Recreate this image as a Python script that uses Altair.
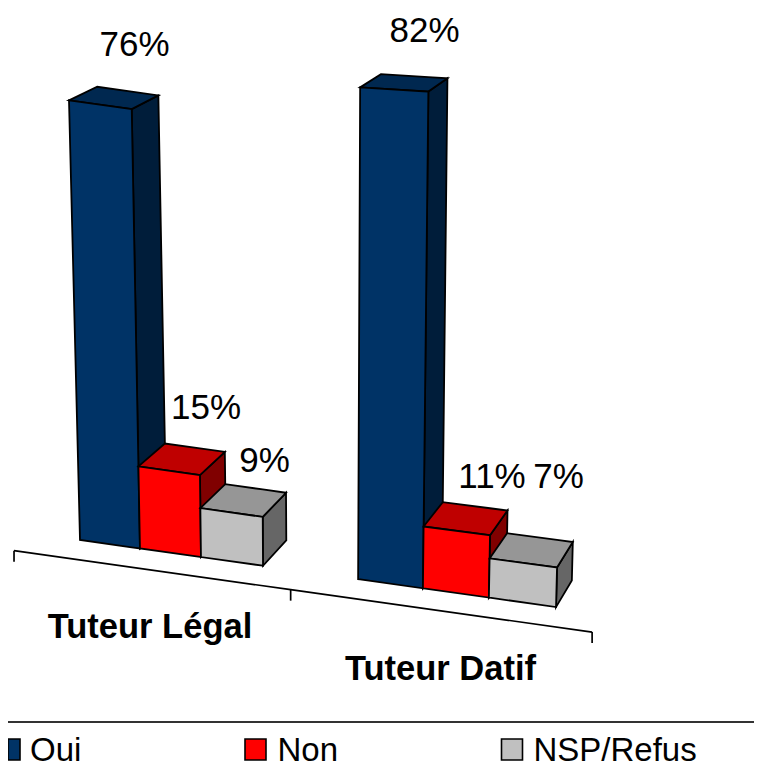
import altair as alt
import pandas as pd

# ---- chart values ----
groups = ["Tuteur Légal", "Tuteur Datif"]
series = ["Oui", "Non", "NSP/Refus"]
values_legal = [76, 15, 9]
values_datif = [82, 11, 7]
data_labels = [["76%", "15%", "9%"], ["82%", "11%", "7%"]]

# ---- styles ----
FRONT = ["#003366", "#ff0000", "#c0c0c0"]
TOP = ["#002850", "#bf0000", "#969696"]
SIDE = ["#001d3a", "#800000", "#666666"]
FONT = "Liberation Sans"

# ---- 3D camera (perspective of the bar scene) ----
GROUP_START = [0.0, 4.5]
VERT_VP = (319.0, 10090.0)   # vanishing point of the verticals
DEPTH_VP = (1176.0, -431.0)  # vanishing point of the depth direction
DEPTH = 0.0255
RISE_K = [5.65e-4, 5.85e-4]
RISE_M = 0.00095
TILT = [0.0, 0.011]


def floor(X):
    x = (80 + 58.79 * X) / (1 - 0.00842 * X)
    return (x, 540 + 0.1408 * (x - 80))


def lift(p, t):
    return (p[0] - t * (VERT_VP[0] - p[0]), p[1] - t * (VERT_VP[1] - p[1]))


def back(p):
    return (p[0] + DEPTH * (DEPTH_VP[0] - p[0]), p[1] + DEPTH * (DEPTH_VP[1] - p[1]))


def span_at(poly, x):
    ys = []
    n = len(poly)
    for i in range(n):
        a, b = poly[i], poly[(i + 1) % n]
        lo, hi = min(a[0], b[0]), max(a[0], b[0])
        if lo - 1e-9 <= x <= hi + 1e-9:
            if abs(b[0] - a[0]) < 1e-9:
                ys += [a[1], b[1]]
            else:
                ys.append(a[1] + (x - a[0]) / (b[0] - a[0]) * (b[1] - a[1]))
    return min(ys), max(ys)


rows = []


def add_face(name, poly, color):
    for x in sorted({p[0] for p in poly}):
        y0, y1 = span_at(poly, x)
        rows.append({"face": name, "x": x, "y": y0, "y2": y1, "fill": color})


for g, vals in enumerate([values_legal, values_datif]):
    for s, v in enumerate(vals):
        X = GROUP_START[g] + s
        bl, br = floor(X), floor(X + 1)
        t = RISE_K[g] * v * (1 + RISE_M * v)
        tl, tr = lift(bl, t), lift(br, t * (1 + TILT[g]))
        tag = f"{g:02d}{s:02d}"
        add_face(tag + "a_side", [br, back(br), back(tr), tr], SIDE[s])
        add_face(tag + "b_top", [tl, tr, back(tr), back(tl)], TOP[s])
        add_face(tag + "c_front", [bl, br, tr, tl], FRONT[s])

faces = pd.DataFrame(rows)

PAGE_RIGHT = 754
PAGE_BOTTOM = 769
X_SCALE = alt.Scale(domain=[8, PAGE_RIGHT], nice=False, zero=False)
Y_SCALE = alt.Scale(domain=[8, PAGE_BOTTOM], reverse=True, nice=False, zero=False)
x_enc = alt.X("x:Q", scale=X_SCALE, axis=None)
y_enc = alt.Y("y:Q", scale=Y_SCALE, axis=None)

bars = alt.Chart(faces).mark_area(stroke="black", strokeWidth=1.8, strokeJoin="miter", opacity=1).encode(
    x=x_enc, y=y_enc, y2="y2:Q",
    color=alt.Color("fill:N", scale=None),
    detail="face:N",
)

# ---- category axis: floor line dropped below the bars ----
AXIS_EDGES = [-1.12, 3.44, 8.03]
AXIS_DROP = 20
TICK = 11
axis_rows = []
ends = [floor(e) for e in AXIS_EDGES]
ends = [(p[0], p[1] + AXIS_DROP) for p in ends]
axis_rows += [{"path": "base", "i": i, "x": p[0], "y": p[1]} for i, p in enumerate(ends)]
for j, p in enumerate(ends):
    axis_rows += [
        {"path": f"tick{j}", "i": 0, "x": p[0], "y": p[1]},
        {"path": f"tick{j}", "i": 1, "x": p[0], "y": p[1] + TICK},
    ]
axis_line = alt.Chart(pd.DataFrame(axis_rows)).mark_line(color="black", strokeWidth=1.7).encode(
    x=x_enc, y=y_enc, detail="path:N", order="i:Q"
)

# ---- text placement ----
LABEL_X = [[134.5, 206, 264.5], [424.5, 492, 558.5]]
LABEL_Y = [[56, 419, 472], [41.5, 488, 488]]
lab_rows = [
    {"text": data_labels[g][s], "x": LABEL_X[g][s], "y": LABEL_Y[g][s]}
    for g in range(2) for s in range(3)
]
labels = alt.Chart(pd.DataFrame(lab_rows)).mark_text(
    font=FONT, fontSize=35, align="center", baseline="alphabetic", color="black"
).encode(x=x_enc, y=y_enc, text="text:N")

CAT_X = [150, 440.5]
CAT_Y = [638, 680]
cats = alt.Chart(pd.DataFrame({"text": groups, "x": CAT_X, "y": CAT_Y})).mark_text(
    font=FONT, fontSize=34.5, fontWeight="bold", align="center", baseline="alphabetic", color="black"
).encode(x=x_enc, y=y_enc, text="text:N")

# ---- legend ----
LEG_RULE_Y = 722
LEG_SWATCH_X = [8, 245, 501.5]
LEG_SWATCH_W = [12, 21, 21]
LEG_SWATCH_Y = (739, 760)
LEG_TEXT_X = [30, 277.5, 533.5]
LEG_TEXT_Y = 761

rule = alt.Chart(pd.DataFrame({"x": [8, PAGE_RIGHT], "y": [LEG_RULE_Y] * 2})).mark_line(
    color="#333333", strokeWidth=2
).encode(x=x_enc, y=y_enc)

swatches = alt.Chart(pd.DataFrame({
    "x": LEG_SWATCH_X,
    "x2": [a + b for a, b in zip(LEG_SWATCH_X, LEG_SWATCH_W)],
    "y": [LEG_SWATCH_Y[0]] * 3,
    "y2": [LEG_SWATCH_Y[1]] * 3,
    "fill": FRONT,
})).mark_rect(stroke="black", strokeWidth=1.6).encode(
    x=x_enc, x2="x2:Q", y=y_enc, y2="y2:Q", color=alt.Color("fill:N", scale=None)
)

leg_text = alt.Chart(pd.DataFrame({"text": series, "x": LEG_TEXT_X, "y": [LEG_TEXT_Y] * 3})).mark_text(
    font=FONT, fontSize=33, align="left", baseline="alphabetic", color="black"
).encode(x=x_enc, y=y_enc, text="text:N")

chart = alt.layer(bars, axis_line, labels, cats, rule, swatches, leg_text).properties(
    width=PAGE_RIGHT - 8, height=PAGE_BOTTOM - 8, padding=0, background="white",
    autosize=alt.AutoSizeParams(type="none"),
).configure_view(stroke=None)

chart.save("out.html", embed_options={"renderer": "svg", "actions": False})
